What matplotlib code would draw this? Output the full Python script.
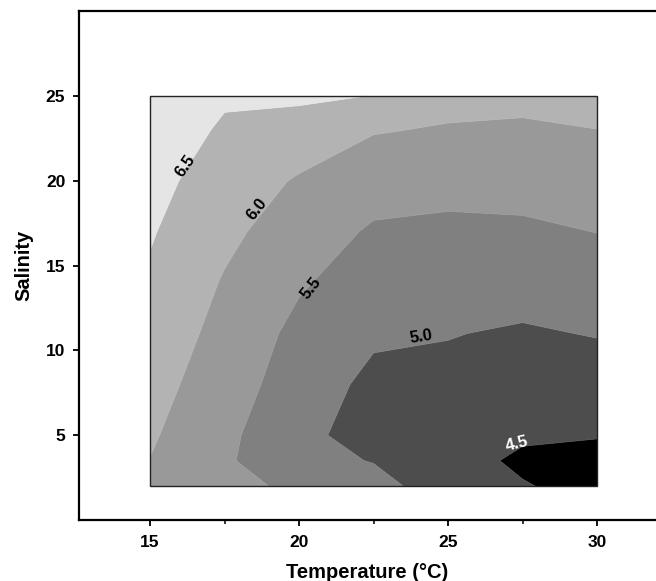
import numpy as np
import matplotlib
matplotlib.use("Agg")
import matplotlib.pyplot as plt
from matplotlib.patches import Rectangle
from matplotlib.ticker import MultipleLocator

plt.rcParams['font.family'] = ['Liberation Sans', 'DejaVu Sans']
plt.rcParams['font.weight'] = 'bold'

# grid (temperature in C, salinity)
temperature = [15, 17.5, 20, 22.5, 25, 27.5, 30]
salinity = [2, 3.5, 5, 8, 11, 14, 17, 20, 23, 25]
# one row per salinity value, one column per temperature
z_rows = [
    [5.92, 5.60, 5.43, 5.23, 4.65, 4.53, 4.35],
    [5.99, 5.555, 5.20, 4.97, 4.68, 4.42, 4.44],
    [6.056, 5.615, 5.10, 4.84, 4.77, 4.561, 4.51],
    [6.18, 5.73, 5.26, 4.88, 4.89, 4.756, 4.78],
    [6.305, 5.845, 5.37, 5.074, 5.017, 4.951, 5.022],
    [6.43, 5.96, 5.553, 5.257, 5.209, 5.179, 5.264],
    [6.54, 6.109, 5.75, 5.44, 5.40, 5.417, 5.507],
    [6.64, 6.278, 5.95, 5.708, 5.649, 5.675, 5.751],
    [6.74, 6.446, 6.298, 6.03, 5.961, 5.943, 5.996],
    [6.80, 6.55, 6.58, 6.49, 6.15, 6.10, 6.15],
]
levels = [4.0, 4.5, 5.0, 5.5, 6.0, 6.5, 7.0]
band_colors = ['#000000', '#4d4d4d', '#808080', '#999999', '#b3b3b3', '#e5e5e5']

# where the level labels sit (data coords) and their angle
label_levels = [6.5, 6.0, 5.5, 5.0, 4.5]
label_pos = [(16.2, 20.9), (18.6, 18.3), (20.4, 13.7), (24.1, 10.8), (27.3, 4.5)]
label_rot = [55, 52, 52, 9, 14]
label_col = ['black', 'black', 'black', 'black', 'white']

T, S = np.meshgrid(temperature, salinity)
Z = np.array(z_rows)

fig = plt.figure(figsize=(6.56, 5.81), dpi=100)
ax = fig.add_axes([0.1197, 0.105, 0.8813, 0.8757])

cs = ax.contourf(T, S, Z, levels=levels, colors=band_colors, antialiased=True)
ax.contour(T, S, Z, levels=levels, colors=band_colors, linewidths=0.6)

ax.add_patch(Rectangle((min(temperature), min(salinity)),
                       max(temperature) - min(temperature),
                       max(salinity) - min(salinity),
                       fill=False, edgecolor='#222222', lw=1.0, zorder=3))

for lv, (x, y), r, c in zip(label_levels, label_pos, label_rot, label_col):
    ax.text(x, y, f"{lv:.1f}", rotation=r, color=c, fontsize=12, fontweight='bold',
            ha='center', va='center', rotation_mode='anchor', zorder=4)

ax.set_xlim(12.6, 32.0)
ax.set_ylim(0, 30)
ax.xaxis.set_major_locator(MultipleLocator(5))
ax.xaxis.set_minor_locator(MultipleLocator(2.5))
ax.set_yticks([5, 10, 15, 20, 25])

for s in ['left', 'top', 'bottom', 'right']:
    ax.spines[s].set_linewidth(1.6)
ax.spines['right'].set_visible(False)

ax.tick_params(which='major', direction='out', length=4.5, width=1.3, labelsize=12.5, pad=5)
ax.tick_params(axis='x', which='major', pad=6.5)
ax.tick_params(which='minor', direction='out', length=3, width=1.1)
for lab in ax.get_xticklabels() + ax.get_yticklabels():
    lab.set_fontweight('bold')

ax.set_xlabel('Temperature (°C)', fontsize=14.5, fontweight='bold', labelpad=9)
ax.set_ylabel('Salinity', fontsize=14.5, fontweight='bold', labelpad=9)

fig.savefig('out.png', dpi=100)
